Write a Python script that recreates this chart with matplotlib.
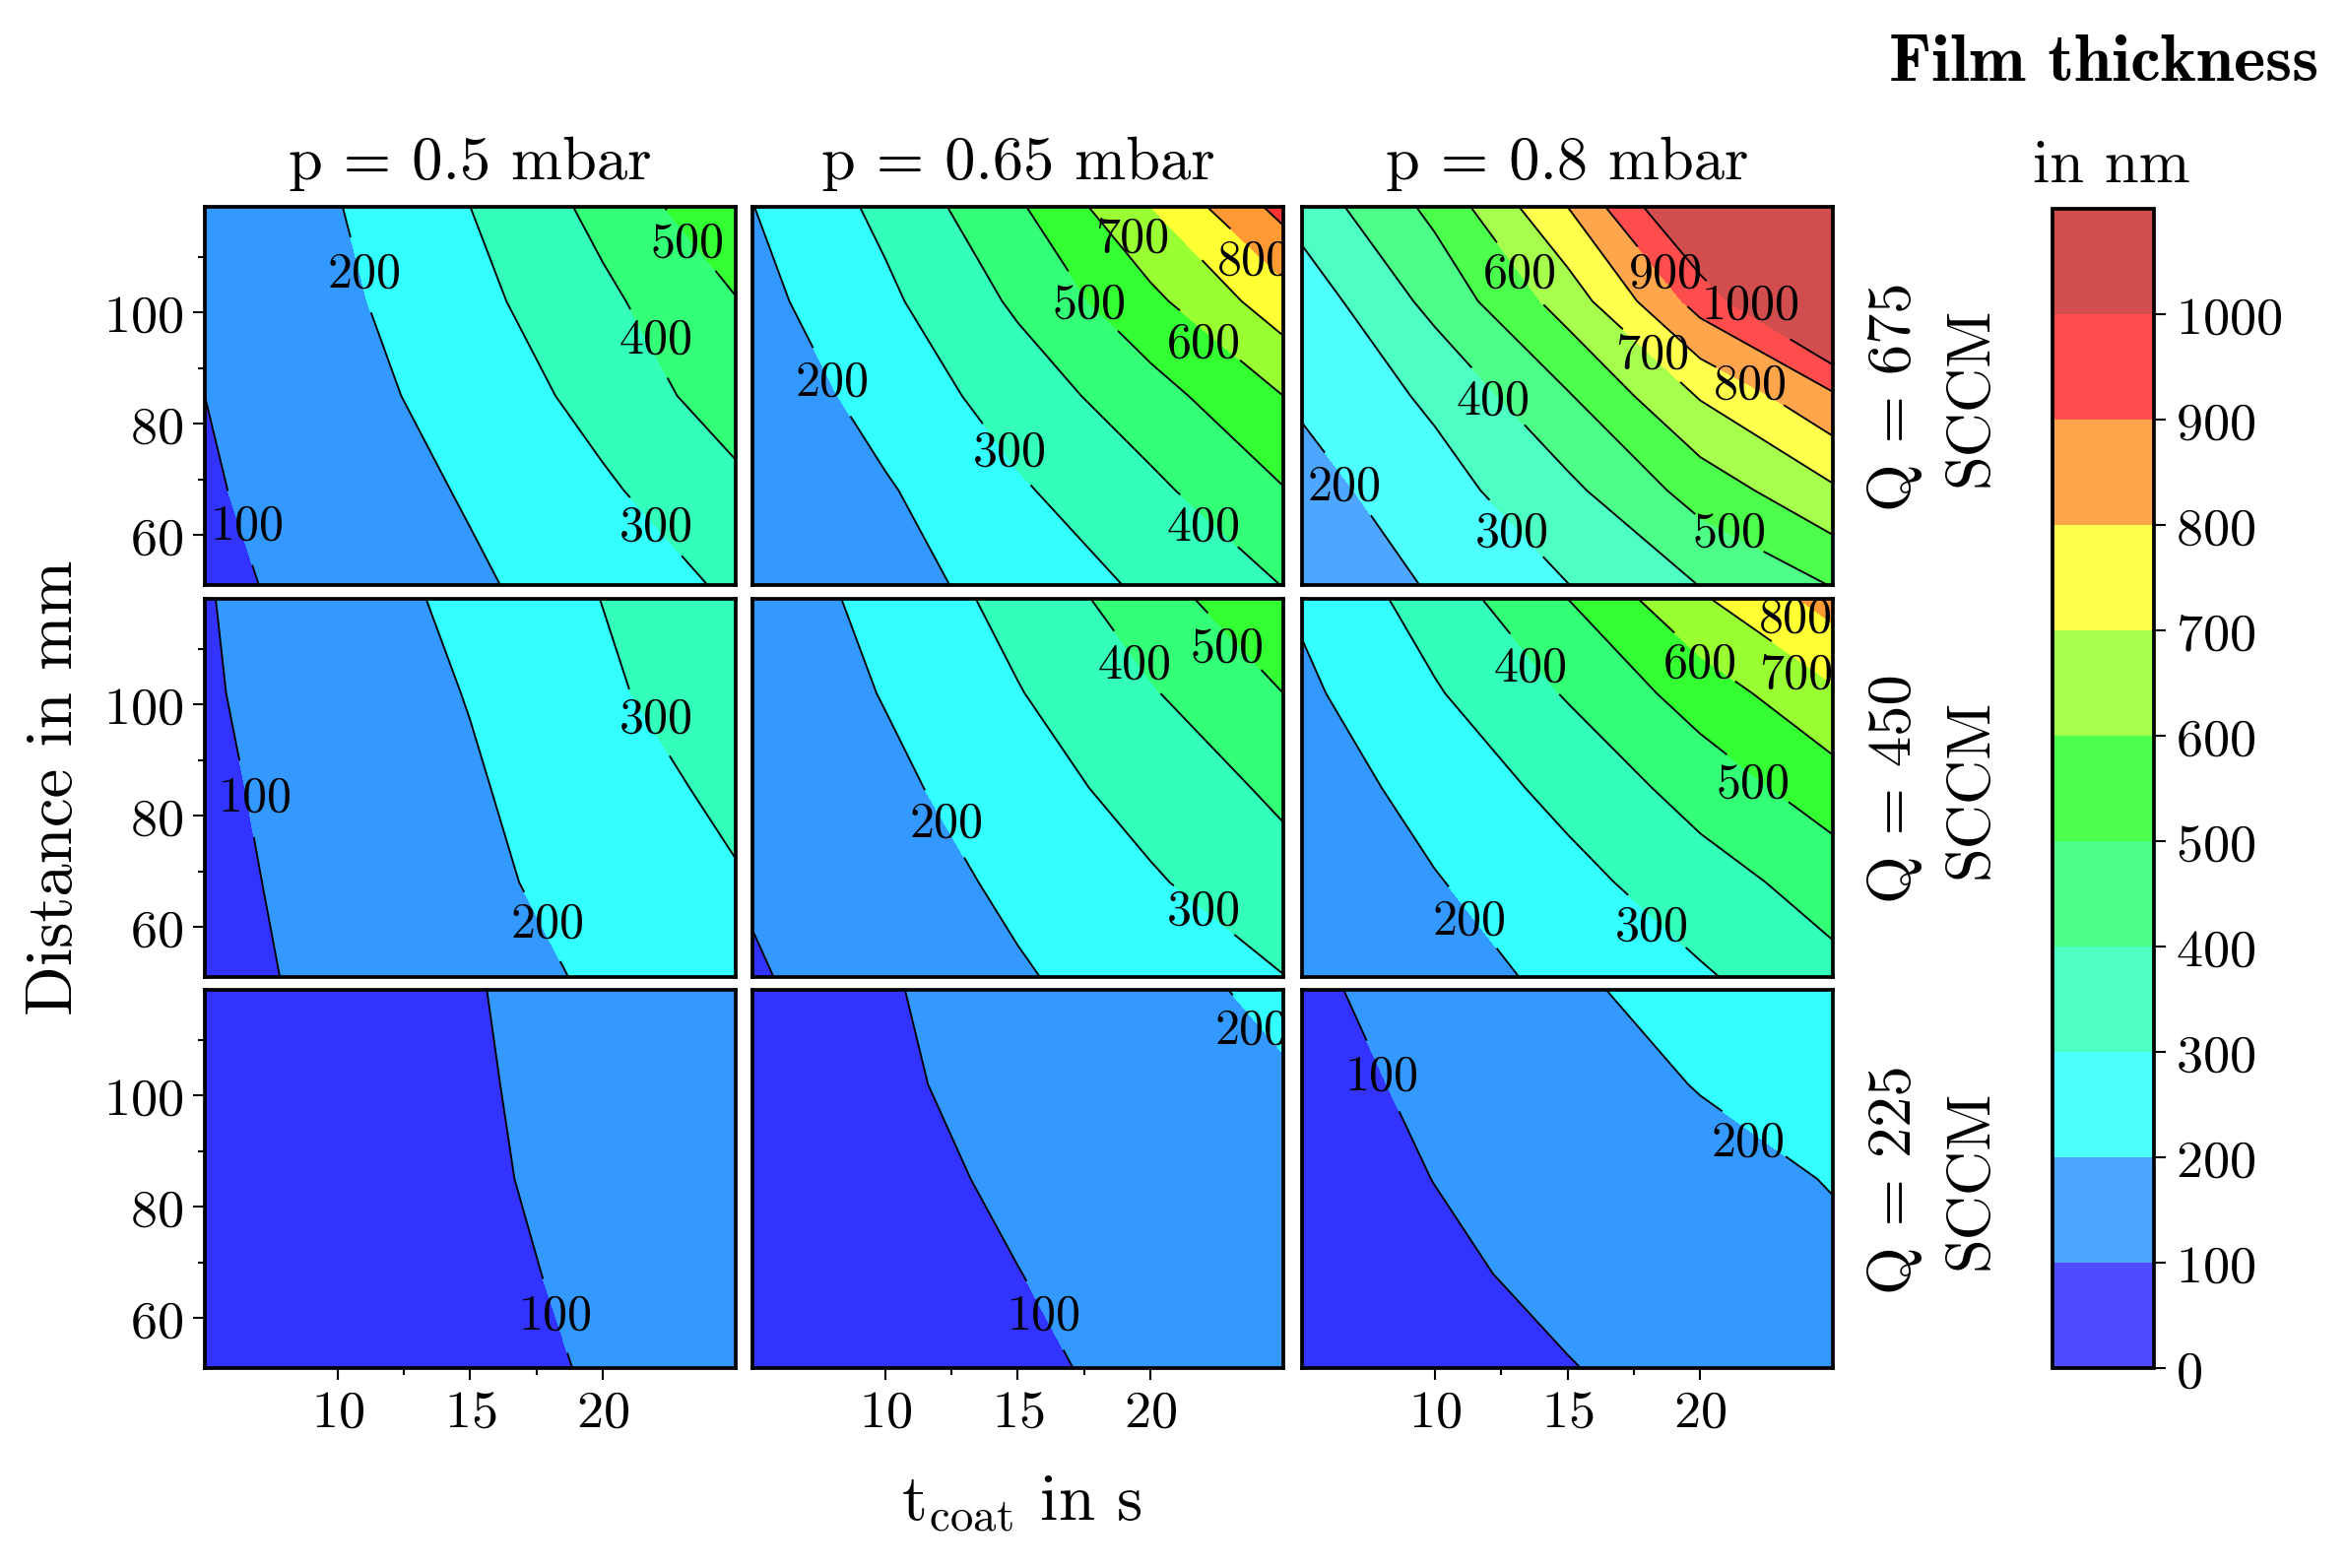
import numpy as np
import matplotlib.pyplot as plt
from matplotlib import colors as mcolors
from matplotlib.cm import ScalarMappable

plt.rcParams['font.family'] = 'serif'
plt.rcParams['font.serif'] = ['cmr10']
plt.rcParams['mathtext.fontset'] = 'cm'
plt.rcParams['axes.formatter.use_mathtext'] = True
plt.rcParams['axes.unicode_minus'] = False

# grid the values were read on
t_coat = [5, 10, 15, 20, 25]          # s
distance = [51, 68, 85, 102, 119]     # mm
pressures = ['0.5', '0.65', '0.8']    # mbar (columns)
flows = ['675', '450', '225']         # SCCM (rows)

# film thickness in nm, rows = distance (ascending), cols = t_coat
thk_q675_p050 = [[78, 132, 186, 248, 314],
                 [90, 148, 209, 286, 375],
                 [100, 164, 239, 334, 452],
                 [105, 180, 270, 380, 495],
                 [110, 196, 300, 429, 583]]
thk_q675_p065 = [[103, 165, 237, 317, 402],
                 [105, 190, 288, 378, 495],
                 [132, 238, 345, 460, 600],
                 [169, 280, 416, 575, 757],
                 [198, 324, 486, 700, 935]]
thk_q675_p080 = [[123, 210, 298, 402, 504],
                 [162, 260, 376, 541, 685],
                 [215, 319, 491, 708, 885],
                 [242, 430, 644, 941, 1235],
                 [340, 526, 800, 1150, 1500]]
thk_q450_p050 = [[74, 120, 166, 212, 268],
                 [78, 129, 179, 236, 292],
                 [84, 137, 190, 255, 324],
                 [91, 147, 204, 283, 365],
                 [95, 156, 222, 302, 393]]
thk_q450_p065 = [[92, 142, 191, 245, 298],
                 [108, 157, 218, 289, 365],
                 [111, 177, 256, 338, 420],
                 [127, 205, 295, 392, 500],
                 [141, 229, 333, 455, 591]]
thk_q450_p080 = [[105, 160, 223, 288, 372],
                 [117, 194, 269, 357, 444],
                 [146, 236, 330, 440, 555],
                 [180, 291, 408, 545, 685],
                 [215, 345, 500, 688, 840]]
thk_q225_p050 = [[28, 54, 80, 106, 133],
                 [30, 57, 85, 113, 142],
                 [32, 60, 90, 120, 150],
                 [33, 62, 93, 124, 156],
                 [35, 65, 96, 128, 160]]
thk_q225_p065 = [[42, 64, 90, 114, 142],
                 [46, 72, 99, 128, 158],
                 [50, 80, 111, 142, 174],
                 [56, 89, 123, 157, 192],
                 [58, 94, 134, 176, 217]]
thk_q225_p080 = [[48, 72, 97, 127, 158],
                 [55, 86, 118, 149, 181],
                 [66, 101, 135, 170, 204],
                 [72, 116, 160, 204, 247],
                 [84, 135, 186, 234, 280]]

panels = [[thk_q675_p050, thk_q675_p065, thk_q675_p080],
          [thk_q450_p050, thk_q450_p065, thk_q450_p080],
          [thk_q225_p050, thk_q225_p065, thk_q225_p080]]

# where the contour labels sit (t, d), per panel
label_pos = [[[(11.0, 106.9), (23.2, 112.5), (22.0, 95.1), (6.6, 61.7), (22.0, 61.5)],
              [(19.3, 113.4), (23.9, 109.3), (17.7, 101.5), (22.0, 94.5), (8.0, 87.5),
               (14.7, 74.9), (22.0, 61.5)],
              [(13.2, 106.9), (18.7, 106.9), (21.9, 101.3), (18.2, 92.4), (21.9, 87.0),
               (12.2, 84.1), (6.6, 68.7), (12.9, 60.4), (21.1, 60.4)]],
             [[(22.0, 97.5), (6.9, 83.3), (17.9, 60.5)],
              [(19.4, 107.2), (22.9, 110.1), (12.3, 78.7), (22.0, 62.9)],
              [(13.6, 106.6), (20.0, 107.4), (23.6, 115.5), (23.6, 105.3), (22.0, 85.7),
               (11.3, 61.2), (18.2, 60.1)]],
             [[(18.2, 60.4)],
              [(23.8, 111.7), (16.0, 60.4)],
              [(8.0, 103.4), (21.8, 91.6)]]]
# point on the contour line to cut the gap at (only where it differs from label_pos)
gap_pos = {(0, 1, 0): (20.7, 113.4)}

base_colors = ['#0000ff', '#0080ff', '#00ffff', '#00ffaa', '#00ff55', '#00ff00',
               '#80ff00', '#ffff00', '#ff8000', '#ff0000', '#bf0000']
bounds = np.arange(0, 1200, 100)
fill_levels = np.append(np.arange(0, 1100, 100), 5000)
line_levels = np.arange(100, 1100, 100)


def fade(cols, a):
    return [tuple(a * np.array(mcolors.to_rgb(c)) + (1 - a)) for c in cols]


fig = plt.figure(figsize=(2382 / 300, 1593 / 300), dpi=300)

lefts = [0.0873, 0.3207, 0.5550]
bottoms = [0.6265, 0.3767, 0.1274]
w, h = 0.2263, 0.2411

T, D = np.meshgrid(t_coat, distance)

for i in range(3):
    for j in range(3):
        ax = fig.add_axes([lefts[j], bottoms[i], w, h])
        Z = np.array(panels[i][j], dtype=float)
        alpha = 0.7 if (i == 0 and j == 2) else 0.8
        ax.contourf(T, D, Z, levels=fill_levels, colors=fade(base_colors, alpha))
        cl = ax.contour(T, D, Z, levels=line_levels, colors='k', linewidths=0.45)
        ax.set_xlim(5, 25)
        ax.set_ylim(51, 119)
        snap = [gap_pos.get((i, j, k), p) for k, p in enumerate(label_pos[i][j])]
        labels = ax.clabel(cl, fmt='%d', fontsize=12, inline=True, inline_spacing=2,
                           manual=snap)
        for k, txt in enumerate(labels):
            txt.set_rotation(0)
            txt.set_position(label_pos[i][j][k])
        ax.set_xticks([10, 15, 20])
        ax.set_xticks([12.5, 17.5], minor=True)
        ax.set_yticks([60, 80, 100])
        ax.set_yticks([70, 90, 110], minor=True)
        ax.tick_params(which='major', length=2.8, width=0.5, labelsize=13, pad=2.5)
        ax.tick_params(which='minor', length=1.6, width=0.5)
        for s in ax.spines.values():
            s.set_linewidth(0.9)
        if j > 0:
            ax.tick_params(which='both', left=False, labelleft=False)
        if i < 2:
            ax.tick_params(which='both', bottom=False, labelbottom=False)
        if i == 0:
            ax.set_title(f'p = {pressures[j]} mbar', fontsize=15, pad=7)
    fig.text(0.824, bottoms[i] + h / 2, f'Q = {flows[i]}\nSCCM', rotation=90,
             ha='center', va='center', multialignment='center', fontsize=15,
             linespacing=1.5)

fig.text(0.0236, 0.498, 'Distance in mm', rotation=90, ha='center', va='center', fontsize=16)
fig.text(0.4355, 0.0415, r'$\mathrm{t_{coat}}$ in s', ha='center', va='center', fontsize=16)

cax = fig.add_axes([0.8749, 0.1274, 0.0432, 0.7389])
sm = ScalarMappable(norm=mcolors.BoundaryNorm(bounds, len(base_colors)),
                    cmap=mcolors.ListedColormap(fade(base_colors, 0.7)))
cb = fig.colorbar(sm, cax=cax, ticks=np.arange(0, 1100, 100))
cb.outline.set_linewidth(0.9)
cb.ax.tick_params(length=2.8, width=0.5, labelsize=13, pad=2.5)
cb.ax.minorticks_off()

fig.text(0.897, 0.959, 'Film thickness', ha='center', va='center', fontsize=16.5,
         family='cmb10')
fig.text(0.900, 0.894, 'in nm', ha='center', va='center', fontsize=15)

fig.savefig('out.png', dpi=300)
